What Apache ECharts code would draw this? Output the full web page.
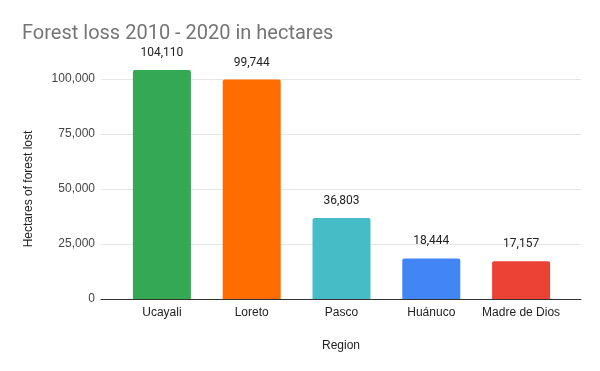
<!DOCTYPE html>
<html>
<head>
<meta charset="utf-8">
<script src="https://cdn.jsdelivr.net/npm/echarts@6/dist/echarts.min.js"></script>
<style>html,body{margin:0;padding:0;background:#fff}#c{width:600px;height:371px}</style>
</head>
<body>
<div id="c"></div>
<script>
const categories = ['Ucayali', 'Loreto', 'Pasco', 'Huánuco', 'Madre de Dios'];
const values = [104110, 99744, 36803, 18444, 17157];
const colors = ['#34A853', '#FF6D01', '#46BDC6', '#4285F4', '#EA4335'];
const yTicks = [0, 25000, 50000, 75000, 100000];

const chart = echarts.init(document.getElementById('c'), null, {renderer: 'canvas'});
const labelFont = '"Liberation Sans", Arial, sans-serif';
chart.setOption({
  animation: false,
  title: {
    text: 'Forest loss 2010 - 2020 in hectares',
    left: 17, top: 19,
    textStyle: {fontFamily: 'Roboto, sans-serif', fontSize: 20, fontWeight: 'normal', color: '#757575'}
  },
  grid: [
    {left: 101, right: 19, top: 79, bottom: 72},
    {left: 117, right: 34, top: 24, bottom: 72}
  ],
  xAxis: [
    {gridIndex: 0, type: 'category', data: categories, axisLine: {lineStyle: {color: '#333', width: 1}},
     axisTick: {show: false}, axisLabel: {show: false},
     name: 'Region', nameLocation: 'middle', nameGap: 41,
     nameTextStyle: {fontFamily: labelFont, fontSize: 12, color: '#222'}},
    {gridIndex: 1, type: 'category', data: categories, axisLine: {show: false}, axisTick: {show: false},
     axisLabel: {interval: 0, fontFamily: labelFont, fontSize: 12, color: '#222', margin: 8}}
  ],
  yAxis: [
    {gridIndex: 0, type: 'value', min: 0, max: yTicks[yTicks.length - 1], interval: 25000,
     axisLine: {show: false}, axisTick: {show: false},
     axisLabel: {fontFamily: labelFont, fontSize: 12, color: '#444', margin: 6,
       formatter: v => v.toLocaleString('en-US')},
     splitLine: {lineStyle: {color: '#e6e6e6'}},
     name: 'Hectares of forest lost', nameLocation: 'middle', nameGap: 66,
     nameTextStyle: {fontFamily: labelFont, fontSize: 12, color: '#222'}},
    {gridIndex: 1, type: 'value', min: 0, max: 125000, show: false}
  ],
  series: [{
    type: 'bar', xAxisIndex: 1, yAxisIndex: 1,
    data: values.map((v, i) => ({value: v, itemStyle: {color: colors[i]}})),
    barWidth: 58,
    itemStyle: {borderRadius: [2, 2, 0, 0]},
    label: {show: true, position: 'top', distance: 11,
      fontFamily: 'Roboto, sans-serif', fontSize: 12, color: '#222',
      formatter: p => p.value.toLocaleString('en-US')}
  }]
});
</script>
</body>
</html>
